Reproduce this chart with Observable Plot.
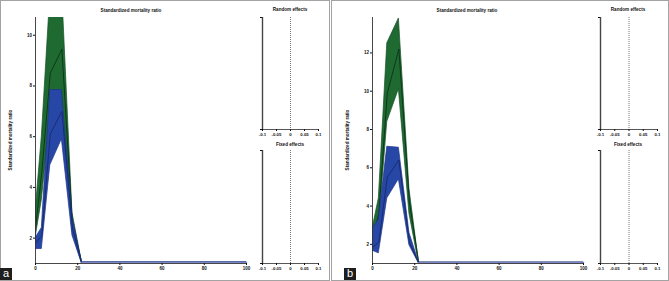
<!DOCTYPE html>
<html>
<head>
<meta charset="utf-8">
<script src="https://cdn.jsdelivr.net/npm/d3@7"></script>
<script src="https://cdn.jsdelivr.net/npm/@observablehq/plot@0.6"></script>
<style>
  html, body { margin: 0; padding: 0; background: #fff; }
  #fig { position: relative; width: 669px; height: 281px; background: #fff; overflow: hidden;
         font-family: "Liberation Sans", Arial, sans-serif; }
  .abs { position: absolute; }
  .ttl { position: absolute; width: 120px; text-align: center; font-size: 4.6px; font-weight: bold; color: #111; white-space: nowrap; line-height: 6px; }
  .ylab { position: absolute; width: 120px; text-align: center; font-size: 4.6px; font-weight: bold; color: #111; white-space: nowrap; line-height: 6px; transform: rotate(-90deg); transform-origin: 50% 50%; }
  .frame { position: absolute; border: 1.5px solid #a3a3a3; box-sizing: border-box; }
  .tag { position: absolute; width: 12px; height: 12px; background: #1e1e1e; color: #fff; font-size: 11px; line-height: 10px; text-align: center; font-family: "Liberation Sans", Arial, sans-serif; }
</style>
</head>
<body>
<div id="fig"></div>
<script>
// ---- data ----
const ageX = [0, 3, 7, 12.5, 17.5, 22, 100];

// panel a
const aGreenHi  = [3.0, 6.0, 11.6, 12.0, 3.0, 1.05, 1.05];
const aGreenMid = [2.4, 4.6, 8.5, 9.45, 2.6, 1, 1];
const aGreenLo  = [2.0, 3.5, 6.8, 7.5, 2.3, 1, 1];
const aBlueHi   = [2.0, 2.4, 7.84, 7.84, 2.8, 1.05, 1.05];
const aBlueMid  = [1.8, 2.1, 6.1, 7.0, 2.4, 1, 1];
const aBlueLo   = [1.57, 1.57, 4.87, 5.9, 2.1, 1, 1];

// panel b
const bGreenHi  = [2.8, 4.4, 12.5, 13.8, 4.9, 1.05, 1.05];
const bGreenMid = [2.3, 3.6, 9.9, 12.2, 4.2, 1, 1];
const bGreenLo  = [1.9, 2.9, 8.4, 10.1, 3.6, 1, 1];
const bBlueHi   = [2.8, 3.3, 7.1, 7.05, 2.6, 1.05, 1.05];
const bBlueMid  = [1.84, 2.1, 5.5, 6.4, 2.1, 1, 1];
const bBlueLo   = [1.67, 1.53, 4.4, 5.4, 1.95, 1, 1];

const xTicks = [0, 20, 40, 60, 80, 100];
const aYTicks = [2, 4, 6, 8, 10];
const bYTicks = [2, 4, 6, 8, 10, 12];
const effTicks = [-0.1, -0.05, 0, 0.05, 0.1];

const mainTitle = "Standardized mortality ratio";
const yTitle = "Standardized mortality ratio";
const randomTitle = "Random effects";
const fixedTitle = "Fixed effects";

// ---- styles ----
const GREEN = "#1f6a31", GREEN_EDGE = "#15502a", GREEN_LINE = "#0b3318";
const BLUE = "#2747a6", BLUE_EDGE = "#1d3487", BLUE_LINE = "#17286e";
const FONT = "'Liberation Sans', Arial, sans-serif";

function table(hi, mid, lo) {
  return ageX.map((x, i) => ({x, hi: hi[i], mid: mid[i], lo: lo[i]}));
}

function mainPlot(green, blue, ymax, yTicks) {
  return Plot.plot({
    width: 250, height: 281,
    marginLeft: 35, marginRight: 4, marginTop: 17, marginBottom: 18,
    x: {domain: [0, 100]},
    y: {domain: [1, ymax]},
    style: {fontFamily: FONT, fontSize: "4.5px", fontWeight: "bold", background: "transparent", color: "#111", overflow: "visible"},
    marks: [
      Plot.areaY(green, {x: "x", y1: "lo", y2: "hi", fill: GREEN, stroke: GREEN_EDGE, strokeWidth: 0.7, clip: true}),
      Plot.lineY(green, {x: "x", y: "mid", stroke: GREEN_LINE, strokeWidth: 0.9, clip: true}),
      Plot.areaY(blue, {x: "x", y1: "lo", y2: "hi", fill: BLUE, stroke: BLUE_EDGE, strokeWidth: 0.7, clip: true}),
      Plot.lineY(blue, {x: "x", y: "mid", stroke: BLUE_LINE, strokeWidth: 0.9, clip: true}),
      Plot.lineY(blue.filter(d => d.x >= 22), {x: "x", y: "hi", stroke: "#7d83c8", strokeWidth: 1.6}),
      Plot.ruleX([0], {stroke: "#333", strokeWidth: 0.9}),
      Plot.ruleY([1], {stroke: "#333", strokeWidth: 0.9}),
      Plot.axisX({ticks: xTicks, tickSize: 2, tickPadding: 1.5, label: null, tickFormat: d => String(d)}),
      Plot.axisY({ticks: yTicks, tickSize: 2, tickPadding: 1.5, label: null, tickFormat: d => String(d)})
    ]
  });
}

function effPlot(height, mt, mb, ml, mr, width) {
  return Plot.plot({
    width, height,
    marginLeft: ml, marginRight: mr, marginTop: mt, marginBottom: mb,
    x: {domain: [-0.1, 0.1]},
    y: {domain: [0, 1]},
    style: {fontFamily: FONT, fontSize: "4.3px", fontWeight: "bold", background: "transparent", color: "#111", overflow: "visible"},
    marks: [
      Plot.ruleX([0], {stroke: "#555", strokeWidth: 0.8, strokeDasharray: "1,1"}),
      Plot.ruleX([-0.1], {stroke: "#444", strokeWidth: 1.4}),
      Plot.ruleY([0], {stroke: "#444", strokeWidth: 0.9}),
      Plot.axisX({ticks: effTicks, tickSize: 2, tickPadding: 1.2, label: null, tickFormat: d => String(d)}),
      Plot.axisY({ticks: [0, 1], tickSize: 2, tickPadding: 1, label: null, tickFormat: () => ""})
    ]
  });
}

const fig = document.getElementById("fig");
function place(node, left, top) {
  node.style.position = "absolute";
  node.style.left = left + "px";
  node.style.top = top + "px";
  fig.appendChild(node);
}
function div(cls, text, left, top) {
  const d = document.createElement("div");
  d.className = cls;
  d.textContent = text;
  d.style.left = left + "px";
  d.style.top = top + "px";
  fig.appendChild(d);
  return d;
}

// frames
const fa = document.createElement("div"); fa.className = "frame";
Object.assign(fa.style, {left: "0px", top: "0px", width: "330px", height: "281px"}); fig.appendChild(fa);
const fb = document.createElement("div"); fb.className = "frame";
Object.assign(fb.style, {left: "331px", top: "0px", width: "338px", height: "281px"}); fig.appendChild(fb);

// panel a
place(mainPlot(table(aGreenHi, aGreenMid, aGreenLo), table(aBlueHi, aBlueMid, aBlueLo), 10.7, aYTicks), 0, 0);
place(effPlot(140, 17, 11, 12, 12, 80), 250, 0);
place(effPlot(141, 10, 18, 12, 12, 80), 250, 140);
div("ttl", mainTitle, 131 - 60, 8);
div("ttl", randomTitle, 290 - 60, 7);
div("ttl", fixedTitle, 290 - 60, 142);
div("ylab", yTitle, 10.5 - 60, 137);

// panel b
place(mainPlot(table(bGreenHi, bGreenMid, bGreenLo), table(bBlueHi, bBlueMid, bBlueLo), 13.85, bYTicks), 337, 0);
place(effPlot(140, 17, 11, 13, 12, 82), 587, 0);
place(effPlot(141, 10, 18, 13, 12, 82), 587, 140);
div("ttl", mainTitle, 467 - 60, 8);
div("ttl", randomTitle, 628 - 60, 7);
div("ttl", fixedTitle, 628 - 60, 142);
div("ylab", yTitle, 348 - 60, 137);

// tags
div("tag", "a", 0, 268);
div("tag", "b", 344, 268);
</script>
</body>
</html>
